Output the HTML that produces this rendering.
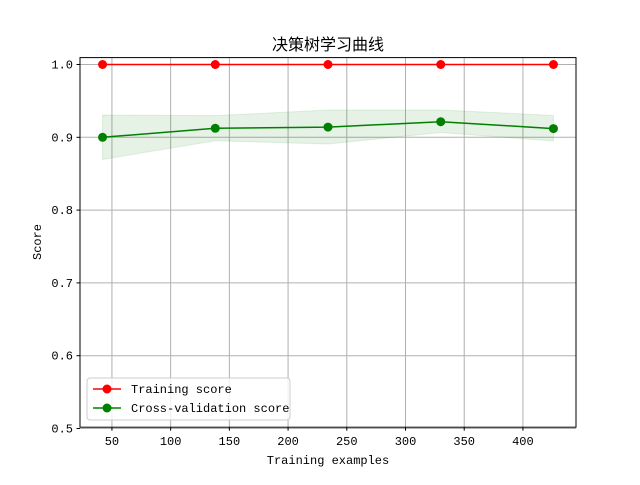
<!DOCTYPE html>
<html><head><meta charset="utf-8"><style>
body{margin:0;background:#fff;}
svg text{font-family:"Liberation Mono","Noto Sans CJK SC",monospace;}
</style></head><body>
<svg id="chart" width="640" height="480" xmlns="http://www.w3.org/2000/svg">
<rect width="640" height="480" fill="#fff"/>
<text x="328" y="50" text-anchor="middle" font-size="16" style="font-family:'Noto Sans CJK SC',sans-serif">决策树学习曲线</text>
<g id="grid"></g>
<g id="band"></g>
<g id="series"></g>
<rect x="80" y="57.6" width="496" height="369.6" fill="none" stroke="#000" stroke-width="1"/>
<g id="ticks"></g>
<text x="328" y="464" text-anchor="middle" font-size="12">Training examples</text>
<text transform="translate(41,242) rotate(-90)" text-anchor="middle" font-size="12">Score</text>
<g>
<rect x="87" y="378" width="203" height="42" fill="#fff" fill-opacity="0.8" stroke="#ccc" rx="3"/>
<line x1="93" y1="389" x2="121" y2="389" stroke="red" stroke-width="1.5"/><circle cx="107" cy="389" r="4.5" fill="red"/>
<text x="131" y="393" font-size="12">Training score</text>
<line x1="93" y1="408" x2="121" y2="408" stroke="green" stroke-width="1.5"/><circle cx="107" cy="408" r="4.5" fill="green"/>
<text x="131" y="412" font-size="12">Cross-validation score</text>
</g>
</svg>
<script>
const trainSizes=[42,138,234,330,426];
const trainScores=[1.0,1.0,1.0,1.0,1.0];
const cvScores=[0.900,0.9124,0.914,0.9214,0.912];
const cvUpper=[0.9306,0.9297,0.9375,0.9375,0.930];
const cvLower=[0.8695,0.8953,0.8908,0.9066,0.8949];
const xTicks=[50,100,150,200,250,300,350,400];
const yTicks=[0.5,0.6,0.7,0.8,0.9,1.0];
const NS='http://www.w3.org/2000/svg';
const xmin=22.8,xmax=445.2;
function X(v){return 80+(v-xmin)/(xmax-xmin)*496;}
function Y(v){return 64.5+(1-v)*728;}
function mk(t,a,p){const e=document.createElementNS(NS,t);for(const k in a)e.setAttribute(k,a[k]);p.appendChild(e);return e;}
const grid=document.getElementById('grid'),ticks=document.getElementById('ticks');
xTicks.forEach(v=>{
 const l=mk('line',{x1:X(v),x2:X(v),y1:57.6,y2:427.2,stroke:'#b0b0b0','stroke-width':1},grid);
 
 
 mk('line',{x1:X(v),x2:X(v),y1:427.2,y2:430.7,stroke:'#000'},ticks);
 const t=mk('text',{x:X(v),y:445,'text-anchor':'middle','font-size':12},ticks);
 t.textContent=v;
 
 
});
yTicks.forEach(v=>{
 const l=mk('line',{x1:80,x2:576,y1:Y(v),y2:Y(v),stroke:'#b0b0b0','stroke-width':1},grid);
 
 
 mk('line',{x1:76.5,x2:80,y1:Y(v),y2:Y(v),stroke:'#000'},ticks);
 const t=mk('text',{x:73,y:Y(v)+4,'text-anchor':'end','font-size':12},ticks);
 t.textContent=v.toFixed(1);
 
 
});
let pts=trainSizes.map((s,i)=>X(s)+','+Y(cvUpper[i]));
pts=pts.concat(trainSizes.map((s,i)=>X(s)+','+Y(cvLower[i])).reverse());
const band=mk('polygon',{points:pts.join(' '),fill:'green','fill-opacity':0.1,stroke:'green','stroke-opacity':0.1},document.getElementById('band'));


const ser=document.getElementById('series');
[[trainScores,'red','training'],[cvScores,'green','cv']].forEach(([d,c,n])=>{
 const pl=mk('polyline',{points:trainSizes.map((s,i)=>X(s)+','+Y(d[i])).join(' '),fill:'none',stroke:c,'stroke-width':1.5},ser);
 
 
 trainSizes.forEach((s,i)=>{
  const p=mk('circle',{cx:X(s),cy:Y(d[i]),r:4.5,fill:c},ser);
  
  
 });
});
</script>
</body></html>
